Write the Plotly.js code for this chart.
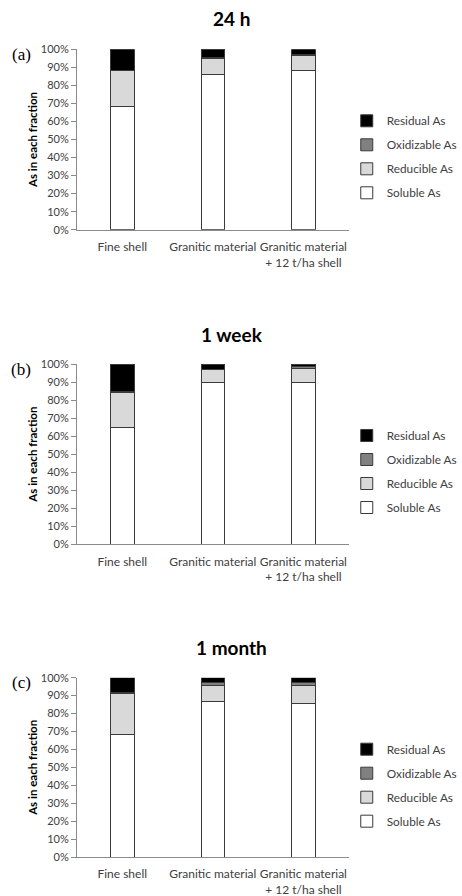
<!DOCTYPE html>
<html><head><meta charset="utf-8">
<script src="https://cdn.plot.ly/plotly-3.0.1.min.js"></script>
<style>html,body{margin:0;padding:0;background:#fff;}#chart{width:462px;height:896px;}</style>
</head><body><div id="chart"></div>
<script>
const categories = ["Fine shell", "Granitic material", "Granitic material<br>+ 12 t/ha shell"];
const panelTitles = ["24 h", "1 week", "1 month"];
const panelLabels = ["(a)", "(b)", "(c)"];
const seriesNames = ["Soluble As", "Reducible As", "Oxidizable As", "Residual As"];
const seriesColors = ["#ffffff", "#d9d9d9", "#808080", "#000000"];
// values in percent, per panel
const soluble24h = [68.5, 86.0, 88.0];
const reducible24h = [19.5, 8.7, 8.7];
const oxidizable24h = [0.5, 0.8, 0.3];
const residual24h = [11.5, 4.5, 3.0];
const soluble1w = [64.8, 90.0, 90.0];
const reducible1w = [19.6, 6.8, 7.6];
const oxidizable1w = [0.3, 0.3, 0.9];
const residual1w = [15.3, 2.9, 1.5];
const soluble1m = [68.6, 86.8, 85.6];
const reducible1m = [22.4, 8.6, 10.2];
const oxidizable1m = [0.5, 2.2, 1.5];
const residual1m = [8.5, 2.4, 2.7];

const panels = [
  [soluble24h, reducible24h, oxidizable24h, residual24h],
  [soluble1w, reducible1w, oxidizable1w, residual1w],
  [soluble1m, reducible1m, oxidizable1m, residual1m]
];

const W = 462, H = 896;
const px = v => 1 - v / H;
const plotTops = [49.3, 364, 677.7];
const plotBots = [229.7, 544.3, 857];
const titleY = [18.3, 334, 647.7];
const legendNames = ["legend", "legend2", "legend3"];
const FONT = "Lato, 'Open Sans', sans-serif";

const traces = [];
panels.forEach((series, p) => {
  series.forEach((vals, s) => {
    traces.push({
      type: "bar", x: categories, y: vals, name: seriesNames[s],
      xaxis: p === 0 ? "x" : "x" + (p + 1), yaxis: p === 0 ? "y" : "y" + (p + 1),
      legend: legendNames[p], legendgroup: "g" + s, legendrank: 4 - s,
      marker: {color: seriesColors[s], line: {color: "#3a3a3a", width: 1}},
      width: 0.26, hoverinfo: "skip"
    });
  });
});

const layout = {
  width: W, height: H, barmode: "stack", showlegend: true,
  margin: {l: 0, r: 0, t: 0, b: 0}, paper_bgcolor: "#fff", plot_bgcolor: "#fff",
  font: {family: FONT, size: 11, color: "#404040"},
  annotations: []
};
for (let p = 0; p < 3; p++) {
  const sx = p === 0 ? "" : String(p + 1);
  layout["xaxis" + sx] = {
    domain: [79 / W, 358 / W], anchor: "y" + sx, showline: true, linecolor: "#8a8a8a", linewidth: 1,
    ticks: "", showgrid: false, zeroline: false, tickfont: {family: FONT, size: 12, color: "#404040"},
    ticklabelstandoff: 6, fixedrange: true
  };
  layout["yaxis" + sx] = {
    domain: [px(plotBots[p]), px(plotTops[p])], anchor: "x" + sx, range: [0, 100],
    tickvals: [0,10,20,30,40,50,60,70,80,90,100], ticktext: ["0%","10%","20%","30%","40%","50%","60%","70%","80%","90%","100%"],
    showline: true, linecolor: "#8a8a8a", linewidth: 1, ticks: "outside", ticklen: 5, tickcolor: "#8a8a8a",
    showgrid: false, zeroline: false, tickfont: {family: FONT, size: 11, color: "#404040"},
    title: {text: "As in each fraction", font: {family: FONT, size: 11.5, color: "#000", weight: "bold"}, standoff: 0},
    fixedrange: true
  };
  layout[legendNames[p]] = {
    x: 356 / W, xanchor: "left", y: px(plotTops[p] + 57), yanchor: "top",
    traceorder: "grouped", tracegroupgap: 5,
    font: {family: FONT, size: 11.8, color: "#404040"}, bgcolor: "rgba(0,0,0,0)"
  };
  layout.annotations.push({
    text: "<b>" + panelTitles[p] + "</b>", xref: "paper", yref: "paper", x: 238 / W, y: px(titleY[p]),
    xanchor: "center", yanchor: "middle", showarrow: false, font: {family: FONT, size: 19, color: "#000"}
  });
  layout.annotations.push({
    text: panelLabels[p], xref: "paper", yref: "paper", x: 22 / W, y: px(plotTops[p] + 5),
    xanchor: "center", yanchor: "middle", showarrow: false, font: {family: "'Liberation Serif', 'Times New Roman', serif", size: 17, color: "#000"}
  });
}
Plotly.newPlot("chart", traces, layout, {displayModeBar: false, staticPlot: true});
</script></body></html>
